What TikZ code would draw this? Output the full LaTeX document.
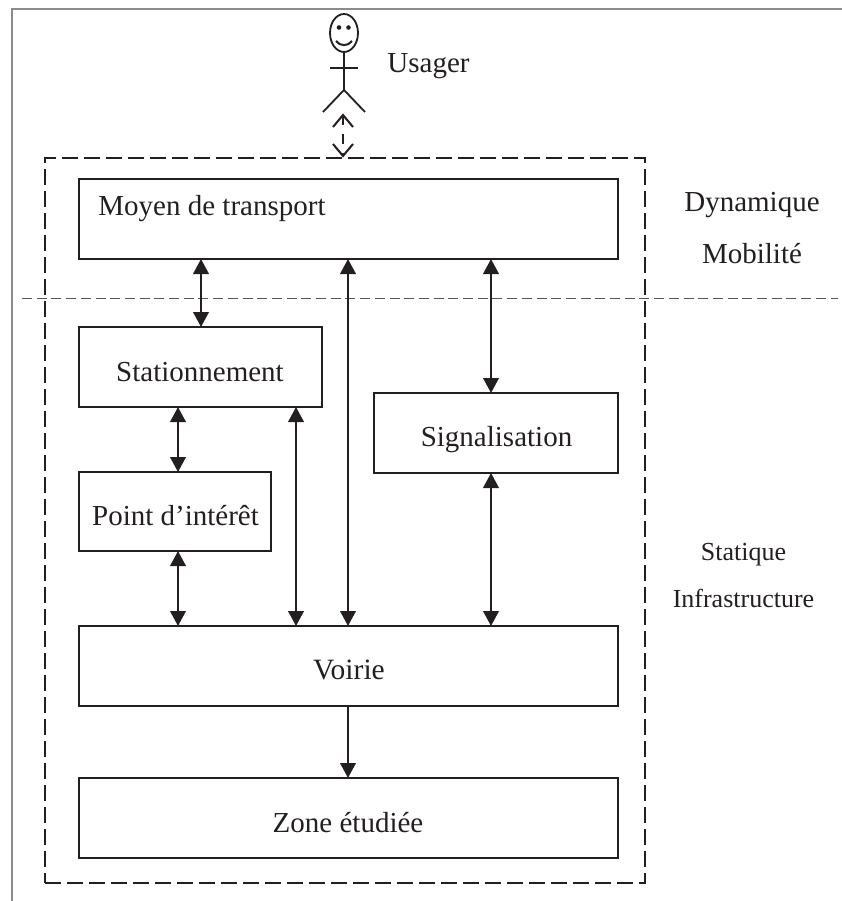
\documentclass[tikz,border=0pt]{standalone}
\usepackage{fontspec}
\setmainfont{Liberation Serif}
\usetikzlibrary{arrows.meta,calc,shapes.geometric}
\definecolor{ink}{HTML}{231F20}
\definecolor{framegray}{HTML}{8C8C8C}
\definecolor{sepgray}{HTML}{555555}
\newcommand{\fs}[1]{\fontsize{#1}{#1}\selectfont}
\tikzset{
  x=1pt,y=-1pt,
  box/.style={draw=ink,line width=1.8pt,inner sep=0pt,outer sep=0pt,anchor=north west},
  lbl/.style={text=ink,inner sep=0pt,outer sep=0pt,anchor=base},
  link/.style={draw=ink,line width=2.3pt,{Triangle[length=15pt,width=15.5pt]}-{Triangle[length=15pt,width=15.5pt]}},
  oneway/.style={draw=ink,line width=2.3pt,-{Triangle[length=15pt,width=15.5pt]}},
  zone/.style={draw=ink,line width=1.8pt,dash pattern=on 16pt off 6pt},
  actor/.style={draw=ink,line width=1.8pt},
}
\begin{document}
\begin{tikzpicture}
\useasboundingbox (0,0) rectangle (842,901);
\coordinate (fa) at (12,901);
\coordinate (fb) at (12,9);
\coordinate (fc) at (842,9);
\draw[framegray,line width=1.8pt] (fa) -- (fb) -- (fc);
% boxes
\node[box,minimum width=539pt,minimum height=80pt] (moyen) at (79,179) {};
\node[box,minimum width=243pt,minimum height=80pt] (stat) at (79,327) {};
\node[box,minimum width=192pt,minimum height=79pt] (point) at (79,472) {};
\node[box,minimum width=244pt,minimum height=80pt] (signal) at (374,393) {};
\node[box,minimum width=539pt,minimum height=80pt] (voirie) at (79,626) {};
\node[box,minimum width=539pt,minimum height=80pt] (etude) at (79,778) {};
% zones
\node[zone,inner sep=0pt,outer sep=0pt,anchor=north west,minimum width=600pt,minimum height=725pt] (zonebox) at (45,158) {};
\coordinate (sepl) at (22,298);
\coordinate (sepr) at (838,298);
\draw[draw=sepgray,line width=1pt,dash pattern=on 10pt off 4.7pt] (sepl) -- (sepr);
% labels
\node[lbl] (tmoyen) at (212,216) {\fs{29}Moyen de transport};
\node[lbl] (tstat) at (200,381) {\fs{29}Stationnement};
\node[lbl] (tpoint) at (175.5,525) {\fs{29}Point d’intérêt};
\node[lbl] (tsignal) at (496.5,446) {\fs{29}Signalisation};
\node[lbl] (tvoirie) at (349,679) {\fs{29.5}Voirie};
\node[lbl] (tetude) at (348,832) {\fs{29}Zone étudiée};
\node[lbl] (tusager) at (428.5,73) {\fs{29}Usager};
\node[lbl] (tdyn) at (752,212) {\fs{29}Dynamique};
\node[lbl] (tmob) at (752,263) {\fs{29}Mobilité};
\node[lbl] (tstatique) at (743.5,560) {\fs{26}Statique};
\node[lbl] (tinfra) at (743.5,607) {\fs{26}Infrastructure};
% connectors
\coordinate (xa) at (201,0);
\coordinate (xb) at (178,0);
\coordinate (xc) at (296,0);
\coordinate (xd) at (348,0);
\coordinate (xe) at (491,0);
\draw[link] (xa |- moyen.south) -- (xa |- stat.north);
\draw[link] (xb |- stat.south) -- (xb |- point.north);
\draw[link] (xb |- point.south) -- (xb |- voirie.north);
\draw[link] (xc |- stat.south) -- (xc |- voirie.north);
\draw[link] (xd |- moyen.south) -- (xd |- voirie.north);
\draw[link] (xe |- moyen.south) -- (xe |- signal.north);
\draw[link] (xe |- signal.south) -- (xe |- voirie.north);
\draw[oneway] (xd |- voirie.south) -- (xd |- etude.north);
% actor
\node[actor,ellipse,minimum width=28pt,minimum height=38pt,inner sep=0pt,outer sep=0pt] (head) at (344,33) {};
\coordinate (hip) at (344,90);
\coordinate (arml) at (330,68);
\coordinate (armr) at (358,68);
\coordinate (legl) at (323,112);
\coordinate (legr) at (365,112);
\draw[actor] (head.south) -- (hip);
\draw[actor] (arml) -- (armr);
\draw[actor] (legl) -- (hip) -- (legr);
\fill[ink] (339,27.5) circle (2.3pt) (348.5,27.5) circle (2.3pt);
\draw[actor,line width=2pt] (336,41) .. controls (340,46.5) and (348,46.5) .. (352,41);
\coordinate (dtop) at (343,115);
\coordinate (dbot) at (343,156);
\draw[ink,line width=2pt,dash pattern=on 10pt off 9pt] (dtop) -- (dbot);
\draw[ink,line width=2pt] (333,127) -- (dtop) -- (353,127);
\draw[ink,line width=2pt] (333,144) -- (dbot) -- (353,144);
\end{tikzpicture}
\end{document}
